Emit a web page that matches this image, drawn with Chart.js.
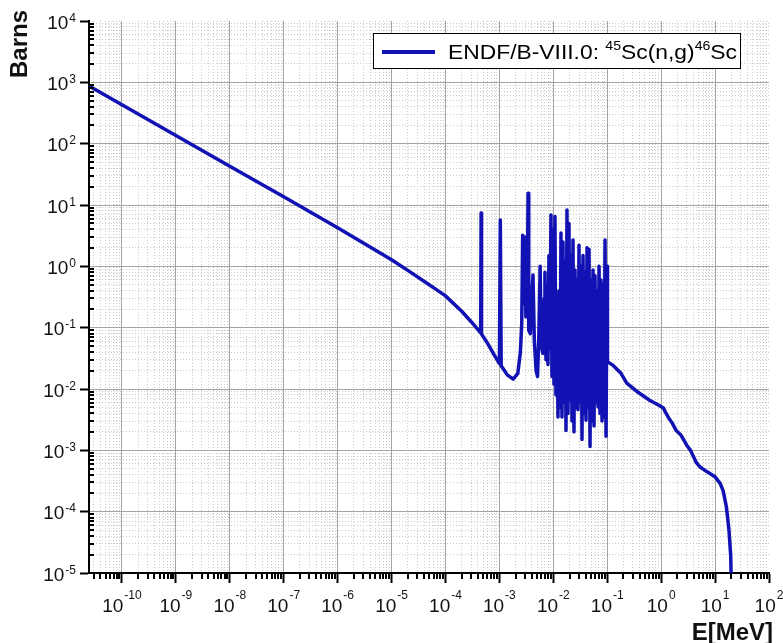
<!DOCTYPE html>
<html>
<head>
<meta charset="utf-8">
<script src="https://cdn.jsdelivr.net/npm/chart.js@4/dist/chart.umd.min.js"></script>
<style>
  html, body { margin: 0; padding: 0; background: #ffffff; }
  #wrap { width: 783px; height: 643px; }
</style>
</head>
<body>
<div id="wrap"><canvas id="c" width="783" height="643"></canvas></div>
<script>
// ---------- data ----------
const seriesName = 'ENDF/B-VIII.0: 45Sc(n,g)46Sc';
const legendParts = [
  { text: 'ENDF/B-VIII.0: ', sup: false },
  { text: '45', sup: true },
  { text: 'Sc(n,g)', sup: false },
  { text: '46', sup: true },
  { text: 'Sc', sup: false }
];

const energyMeV = [
  2.45e-11, 1e-10, 1e-9, 1e-8, 1e-7, 1e-6, 3e-6, 1e-5, 2e-5, 4e-5, 7e-5, 1e-4, 2e-4, 3e-4,
  4.5e-4, 4.58e-4, 4.66e-4, 6e-4, 8e-4, 1.0e-3, 1.04e-3, 1.08e-3, 1.4e-3, 1.8e-3, 2.2e-3,
  2.45e-3, 2.6e-3, 2.7e-3, 2.8e-3, 2.95e-3, 3.1e-3, 3.3e-3, 3.4e-3, 3.5e-3, 3.75e-3, 3.9e-3,
  4.2e-3, 4.45e-3, 4.8e-3, 5.1e-3, 5.4e-3, 5.7e-3, 6.0e-3, 6.4e-3, 6.8e-3,
  7.00e-3, 7.31e-3, 7.62e-3, 7.96e-3, 8.30e-3, 8.67e-3, 9.05e-3, 9.44e-3, 9.85e-3, 1.028e-2,
  1.073e-2, 1.120e-2, 1.169e-2, 1.220e-2, 1.273e-2, 1.329e-2, 1.387e-2, 1.448e-2, 1.511e-2, 1.577e-2,
  1.646e-2, 1.718e-2, 1.793e-2, 1.871e-2, 1.953e-2, 2.038e-2, 2.127e-2, 2.220e-2, 2.317e-2, 2.418e-2,
  2.524e-2, 2.634e-2, 2.749e-2, 2.869e-2, 2.995e-2, 3.126e-2, 3.262e-2, 3.405e-2, 3.554e-2, 3.709e-2,
  3.871e-2, 4.040e-2, 4.217e-2, 4.401e-2, 4.593e-2, 4.794e-2, 5.003e-2, 5.222e-2, 5.450e-2, 5.688e-2,
  5.937e-2, 6.196e-2, 6.467e-2, 6.750e-2, 7.045e-2, 7.353e-2, 7.674e-2, 8.009e-2, 8.359e-2, 8.725e-2,
  9.106e-2, 9.504e-2, 9.919e-2, 1.01e-1,
  1.3e-1, 1.8e-1, 2.3e-1, 3.5e-1, 6.2e-1, 8.9e-1, 1.1, 1.2, 1.4, 1.6, 1.9, 2.3, 3.0, 3.5,
  4.5, 5.2, 7.0, 10.0, 12.4, 14.1, 16.2, 18.1, 19.5, 20.0
];

const crossSectionBarns = [
  870, 430, 136, 43, 13.6, 4.25, 2.4, 1.28, 0.86, 0.57, 0.41, 0.33, 0.185, 0.125,
  0.082, 7.4, 0.079, 0.056, 0.036, 0.026, 5.7, 0.024, 0.017, 0.0145, 0.018,
  0.04, 0.12, 3.2, 0.25, 3.0, 0.15, 0.3, 15.5, 0.09, 0.08, 0.25,
  0.72, 0.06, 0.02, 0.016, 0.08, 1.0, 0.05, 0.038, 0.3,
  0.8, 0.03, 0.5, 0.025, 1.5, 0.045, 6.9, 0.016, 4.0, 0.012,
  6.5, 0.008, 0.15, 0.0035, 0.4, 0.005, 3.5, 0.0035, 2.5, 0.006,
  1.2, 0.0021, 8.3, 0.004, 5.0, 0.0066, 1.5, 0.003, 2.7, 0.002,
  0.87, 0.005, 0.6, 0.0046, 2.2, 0.006, 1.0, 0.0015, 1.5, 0.004,
  0.8, 0.0031, 2.0, 0.005, 1.9, 0.00115, 0.6, 0.003, 0.87, 0.0025,
  0.7, 0.006, 0.4, 0.0051, 1.0, 0.004, 0.6, 0.003, 0.5, 0.0035,
  2.7, 0.0017, 1.0, 0.028,
  0.024, 0.018, 0.0125, 0.0092, 0.0065, 0.0055, 0.0049, 0.0042, 0.0033, 0.0028, 0.0021, 0.0018, 0.0012, 0.001,
  0.00063, 0.00054, 0.00045, 0.00037, 0.00029, 0.00022, 0.00012, 5e-5, 1.9e-5, 6e-6
];

const xRange = [2.45e-11, 100];
const yRange = [1e-5, 1e4];
const xTickValues = [1e-10, 1e-9, 1e-8, 1e-7, 1e-6, 1e-5, 1e-4, 1e-3, 1e-2, 1e-1, 1e0, 1e1, 1e2];
const xTickLabels = ['10^-10', '10^-9', '10^-8', '10^-7', '10^-6', '10^-5', '10^-4', '10^-3', '10^-2', '10^-1', '10^0', '10^1', '10^2'];
const yTickValues = [1e-5, 1e-4, 1e-3, 1e-2, 1e-1, 1e0, 1e1, 1e2, 1e3, 1e4];
const yTickLabels = ['10^-5', '10^-4', '10^-3', '10^-2', '10^-1', '10^0', '10^1', '10^2', '10^3', '10^4'];
const minorMultipliers = [2, 3, 4, 5, 6, 7, 8, 9];
const xTitle = 'E[MeV]';
const yTitle = 'Barns';

// ---------- styling ----------
const LINE_COLOR = '#1212b4';
const FONT = "'Liberation Sans', Arial, Helvetica, sans-serif";
const TEXT_COLOR = '#111111';

function sameValue(a, b) { return Math.abs(Math.log10(a) - Math.log10(b)) < 1e-6; }

function buildLogTicks(scale, majors) {
  const ticks = [];
  const lo = Math.floor(Math.log10(scale.min)) - 1;
  const hi = Math.ceil(Math.log10(scale.max));
  for (let e = lo; e <= hi; e++) {
    const base = majors.find(v => sameValue(v, Math.pow(10, e)));
    const decade = base !== undefined ? base : Math.pow(10, e);
    [1].concat(minorMultipliers).forEach(m => {
      const v = m === 1 ? decade : m * decade;
      if (v >= scale.min * (1 - 1e-9) && v <= scale.max * (1 + 1e-9)) {
        ticks.push({ value: v, major: m === 1, label: '' });
      }
    });
  }
  scale.ticks = ticks;
}

function gridColor(max) {
  return ctx => {
    if (!ctx.tick) return 'rgba(0,0,0,0)';
    if (sameValue(ctx.tick.value, max)) return 'rgba(0,0,0,0)';
    return ctx.tick.major ? '#a4a4a4' : '#cbcbcb';
  };
}

const whiteBg = {
  id: 'whiteBg',
  beforeDraw(chart) {
    const c = chart.ctx;
    c.save();
    c.fillStyle = '#ffffff';
    c.fillRect(0, 0, chart.width, chart.height);
    c.restore();
  }
};

const minorTicks = {
  id: 'minorTicks',
  afterDraw(chart) {
    const c = chart.ctx;
    const a = chart.chartArea;
    const xs = chart.scales.x, ys = chart.scales.y;
    c.save();
    c.strokeStyle = '#000';
    c.lineWidth = 2;
    c.beginPath();
    xs.ticks.forEach(t => {
      if (t.major) return;
      const px = Math.round(xs.getPixelForValue(t.value));
      c.moveTo(px, a.bottom);
      c.lineTo(px, a.bottom + 6);
    });
    ys.ticks.forEach(t => {
      if (t.major) return;
      const py = Math.round(ys.getPixelForValue(t.value));
      c.moveTo(a.left, py);
      c.lineTo(a.left + 5, py);
    });
    c.stroke();
    c.restore();
  }
};

// tick labels with true superscripts, placed by the chart's own scales
const axisText = {
  id: 'axisText',
  afterDraw(chart) {
    const c = chart.ctx;
    const a = chart.chartArea;
    const xs = chart.scales.x, ys = chart.scales.y;
    const baseFont = '19px ' + FONT, supFont = '12px ' + FONT;
    c.save();
    c.fillStyle = TEXT_COLOR;
    c.textBaseline = 'alphabetic';
    c.textAlign = 'left';
    xTickValues.forEach((v, i) => {
      const parts = xTickLabels[i].split('^');
      c.font = baseFont; const wb = c.measureText(parts[0]).width;
      c.font = supFont; const we = c.measureText(parts[1]).width;
      const px = xs.getPixelForValue(v);
      const x0 = px - (wb + we + 1) / 2;
      c.font = baseFont; c.fillText(parts[0], x0, a.bottom + 39);
      c.font = supFont; c.fillText(parts[1], x0 + wb + 1, a.bottom + 26);
    });
    yTickValues.forEach((v, i) => {
      const parts = yTickLabels[i].split('^');
      c.font = baseFont; const wb = c.measureText(parts[0]).width;
      c.font = supFont; const we = c.measureText(parts[1]).width;
      const py = ys.getPixelForValue(v);
      const right = a.left - 13;
      const x0 = right - we - 1 - wb;
      c.font = baseFont; c.fillText(parts[0], x0, py + 7.5);
      c.font = supFont; c.fillText(parts[1], x0 + wb + 1, py + 0.5);
    });
    // axis titles
    c.font = 'bold 24px ' + FONT;
    c.textAlign = 'right';
    c.fillText(xTitle, 773, 640);
    c.save();
    c.translate(27, 10);
    c.rotate(-Math.PI / 2);
    c.textAlign = 'right';
    c.fillText(yTitle, 0, 0);
    c.restore();
    c.restore();
  }
};

const boxLegend = {
  id: 'boxLegend',
  afterDraw(chart) {
    const c = chart.ctx;
    const a = chart.chartArea;
    const mainFont = '21px ' + FONT;
    const supFont = '13px ' + FONT;
    c.save();
    let w = 0;
    legendParts.forEach(p => { c.font = p.sup ? supFont : mainFont; w += c.measureText(p.text).width; });
    const targetW = 289;
    const sx = targetW / w;
    const boxL = a.left + 284, boxT = a.top + 12, boxW = 367, boxH = 35;
    c.fillStyle = '#ffffff';
    c.fillRect(boxL, boxT, boxW, boxH);
    c.strokeStyle = '#000';
    c.lineWidth = 1;
    c.strokeRect(boxL + 0.5, boxT + 0.5, boxW, boxH);
    const ly = boxT + 19;
    c.strokeStyle = chart.data.datasets[0].borderColor;
    c.lineWidth = 4;
    c.beginPath();
    c.moveTo(boxL + 9, ly);
    c.lineTo(boxL + 62, ly);
    c.stroke();
    c.translate(boxL + 75, boxT + 26);
    c.scale(sx, 1);
    c.fillStyle = '#000';
    c.textBaseline = 'alphabetic';
    c.textAlign = 'left';
    let x = 0;
    legendParts.forEach(p => {
      c.font = p.sup ? supFont : mainFont;
      c.fillText(p.text, x, p.sup ? -9 : 0);
      x += c.measureText(p.text).width;
    });
    c.restore();
  }
};

new Chart(document.getElementById('c'), {
  type: 'line',
  data: {
    datasets: [{
      label: seriesName,
      data: energyMeV.map((e, i) => ({ x: e, y: crossSectionBarns[i] })),
      borderColor: LINE_COLOR,
      backgroundColor: LINE_COLOR,
      borderWidth: 3.5,
      pointRadius: 0,
      tension: 0,
      borderJoinStyle: 'round',
      borderCapStyle: 'round',
      fill: false
    }]
  },
  options: {
    responsive: false,
    animation: false,
    devicePixelRatio: 1,
    layout: { padding: { left: 0, right: 14, top: 21, bottom: 0 } },
    plugins: { legend: { display: false }, tooltip: { enabled: false } },
    scales: {
      x: {
        type: 'logarithmic',
        min: xRange[0],
        max: xRange[1],
        afterBuildTicks: s => buildLogTicks(s, xTickValues),
        afterFit: s => { s.height = 70; },
        grid: {
          color: gridColor(xRange[1]),
          lineWidth: 1,
          tickLength: 10,
          tickColor: ctx => (ctx.tick && ctx.tick.major) ? '#000' : 'rgba(0,0,0,0)',
          tickWidth: 2
        },
        border: { display: true, color: '#000', width: 2, dash: ctx => (ctx.tick && !ctx.tick.major) ? [1, 2] : [] },
        ticks: { display: false, autoSkip: false, maxRotation: 0, minRotation: 0 },
        title: { display: false }
      },
      y: {
        type: 'logarithmic',
        min: yRange[0],
        max: yRange[1],
        afterBuildTicks: s => buildLogTicks(s, yTickValues),
        afterFit: s => { s.width = 89; },
        grid: {
          color: gridColor(yRange[1]),
          lineWidth: 1,
          tickLength: 9,
          tickColor: ctx => (ctx.tick && ctx.tick.major) ? '#000' : 'rgba(0,0,0,0)',
          tickWidth: 2
        },
        border: { display: true, color: '#000', width: 2, dash: ctx => (ctx.tick && !ctx.tick.major) ? [1, 2] : [] },
        ticks: { display: false, autoSkip: false },
        title: { display: false }
      }
    }
  },
  plugins: [whiteBg, minorTicks, axisText, boxLegend]
});
</script>
</body>
</html>
